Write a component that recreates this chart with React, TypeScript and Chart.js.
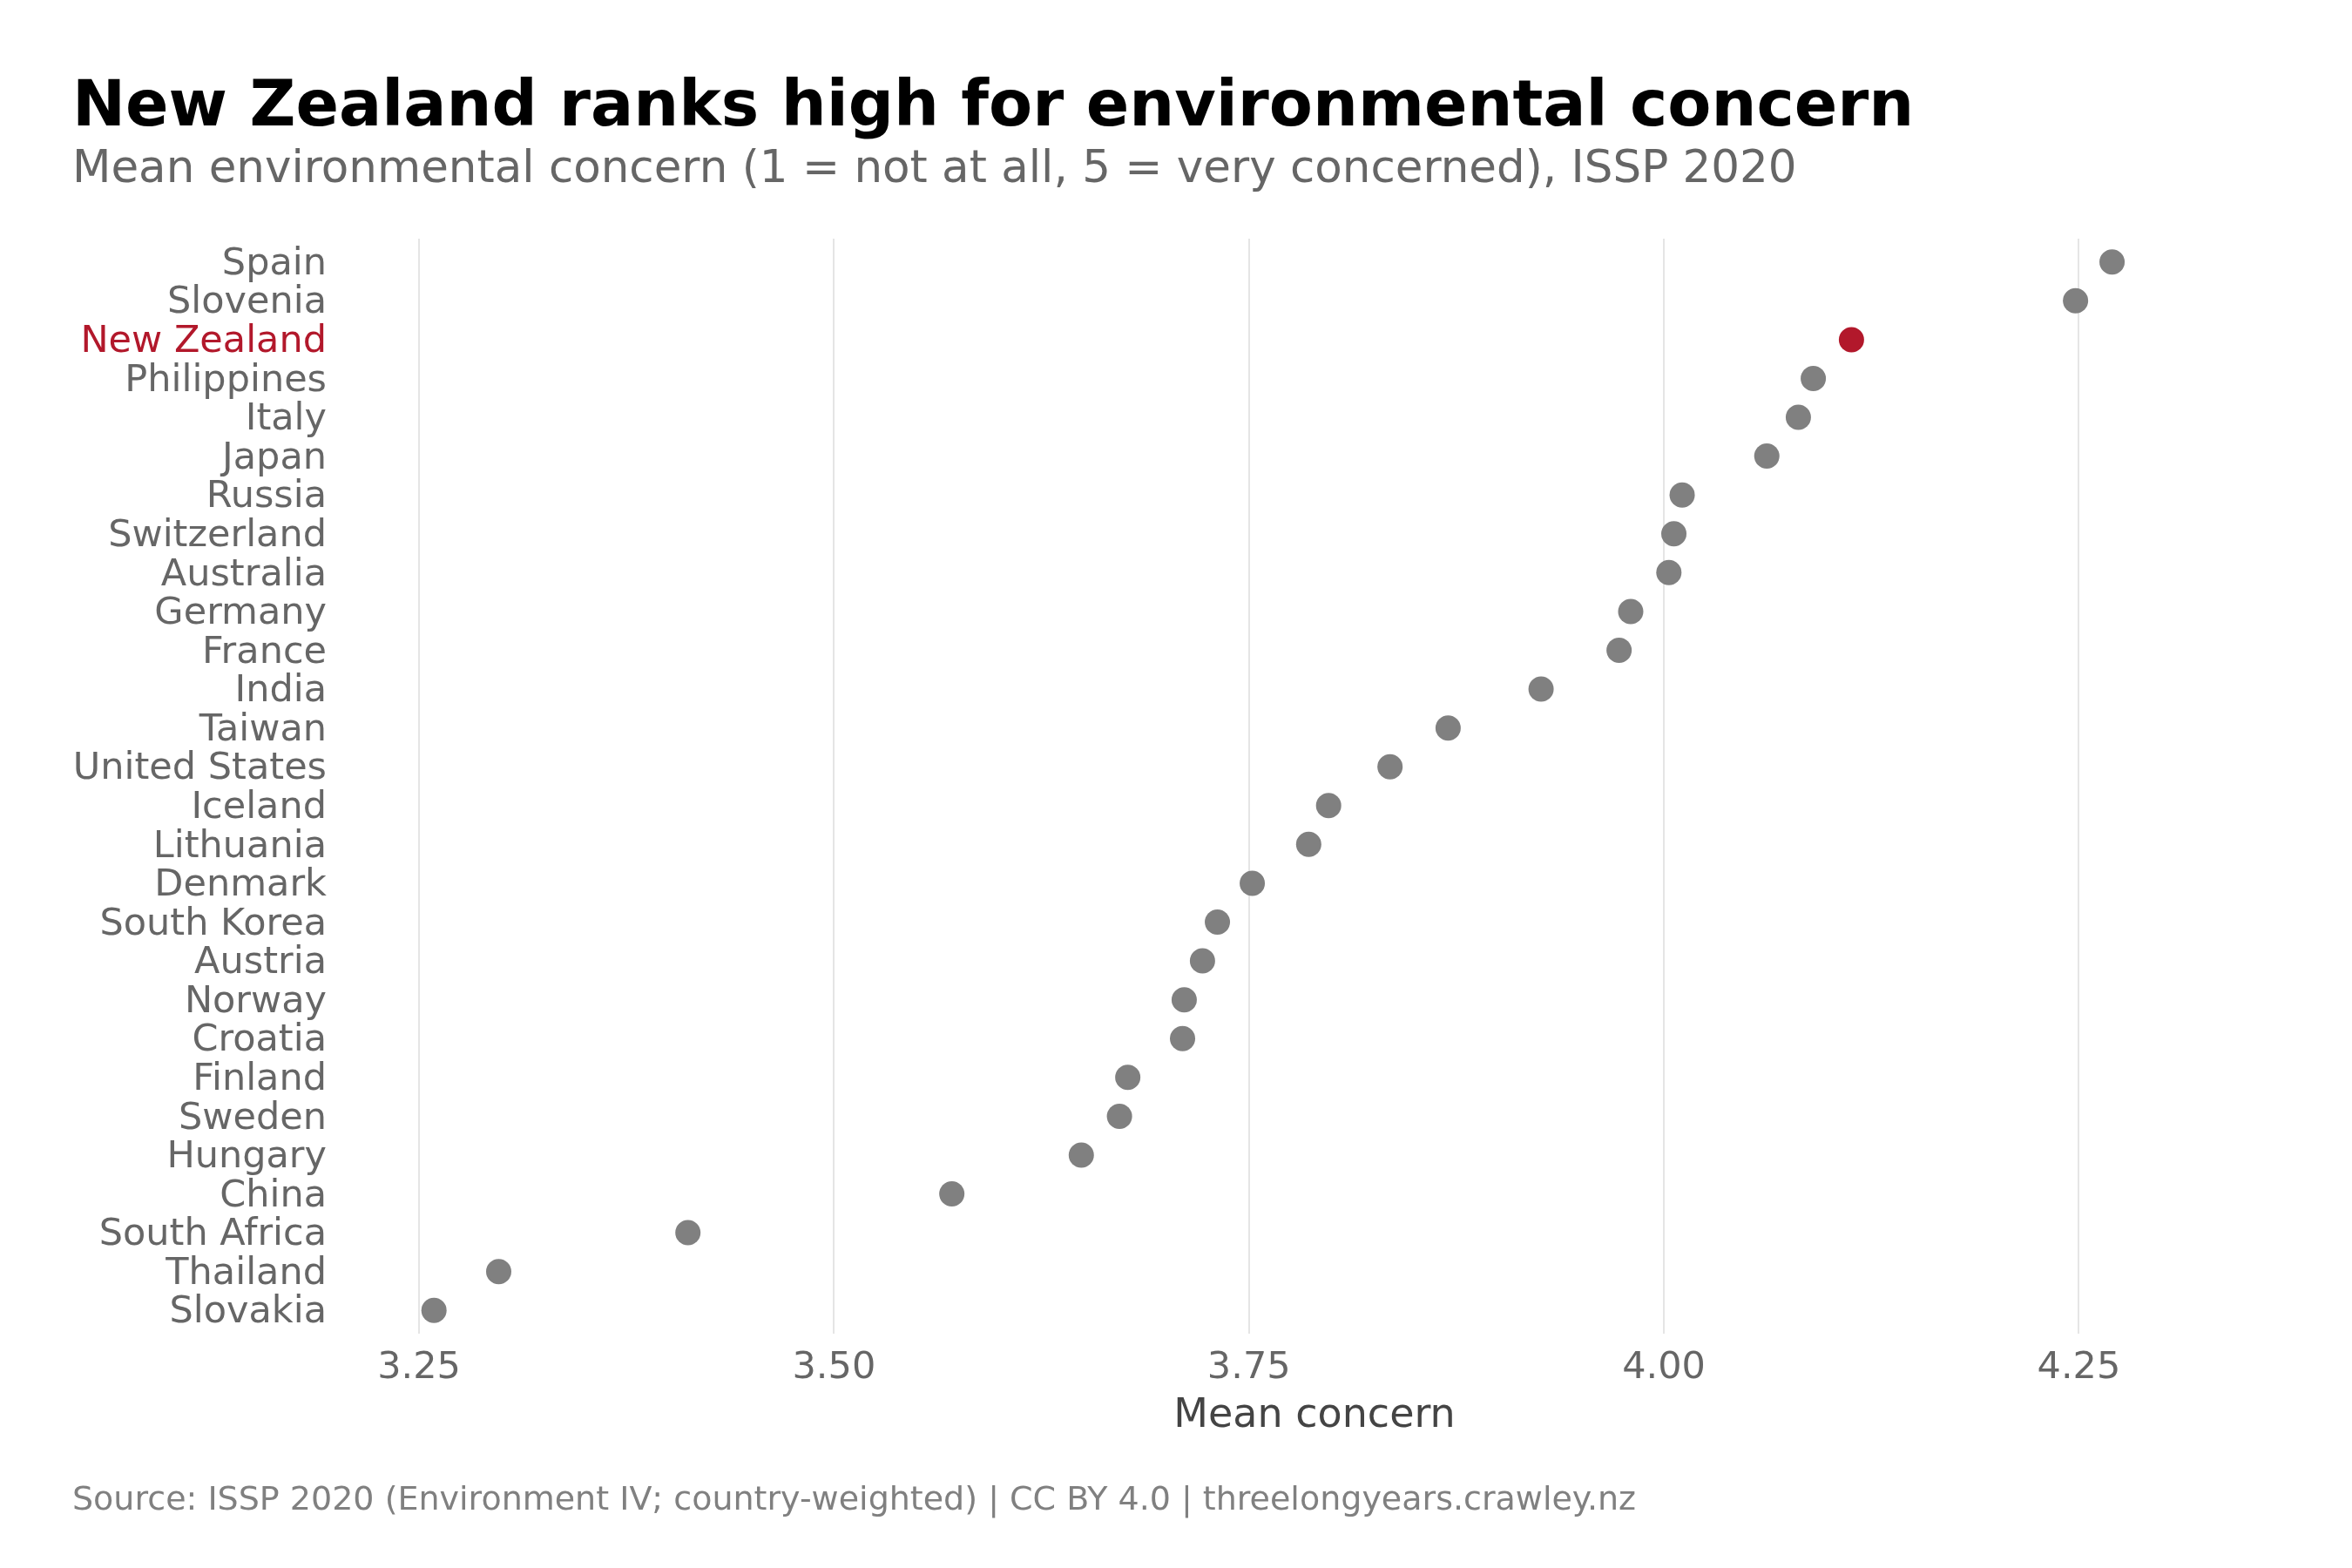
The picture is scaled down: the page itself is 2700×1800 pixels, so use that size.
import React, { useEffect, useRef } from "react";
import { Chart, registerables } from "chart.js";

Chart.register(...registerables);

const countries = [
  "Spain", "Slovenia", "New Zealand", "Philippines", "Italy", "Japan", "Russia",
  "Switzerland", "Australia", "Germany", "France", "India", "Taiwan", "United States",
  "Iceland", "Lithuania", "Denmark", "South Korea", "Austria", "Norway", "Croatia",
  "Finland", "Sweden", "Hungary", "China", "South Africa", "Thailand", "Slovakia",
];

const meanConcern = [
  4.270, 4.248, 4.113, 4.090, 4.081, 4.062, 4.011,
  4.006, 4.003, 3.980, 3.973, 3.926, 3.870, 3.835,
  3.798, 3.786, 3.752, 3.731, 3.722, 3.711, 3.710,
  3.677, 3.672, 3.649, 3.571, 3.412, 3.298, 3.259,
];

const xTicks = [3.25, 3.5, 3.75, 4.0, 4.25];
const highlight = "New Zealand";

const TITLE = "New Zealand ranks high for environmental concern";
const SUBTITLE = "Mean environmental concern (1 = not at all, 5 = very concerned), ISSP 2020";
const CAPTION = "Source: ISSP 2020 (Environment IV; country-weighted) | CC BY 4.0 | threelongyears.crawley.nz";
const X_TITLE = "Mean concern";

const RED = "#B2182B";
const GREY = "#808080";
const FONT = "'DejaVu Sans', sans-serif";

export default function App() {
  const ref = useRef<HTMLCanvasElement | null>(null);

  useEffect(() => {
    document.body.style.margin = "0";
    const canvas = ref.current;
    if (!canvas) return;

    const textPlugin = {
      id: "texts",
      afterDraw(chart: any) {
        const ctx = chart.ctx;
        ctx.save();
        ctx.textAlign = "left";
        ctx.textBaseline = "alphabetic";
        ctx.fillStyle = "#000000";
        ctx.font = `bold 73px ${FONT}`;
        ctx.fillText(TITLE, 83, 144);
        ctx.fillStyle = "#666666";
        ctx.font = `51.5px ${FONT}`;
        ctx.fillText(SUBTITLE, 83, 209);
        ctx.fillStyle = "#808080";
        ctx.font = `38px ${FONT}`;
        ctx.fillText(CAPTION, 83, 1733);
        ctx.restore();
      },
    };

    const chart = new Chart(canvas, {
      type: "scatter",
      data: {
        datasets: [
          {
            data: countries.map((c, i) => ({ x: meanConcern[i], y: i })),
            pointRadius: 14.5,
            pointHoverRadius: 14.5,
            pointBorderWidth: 0,
            pointBackgroundColor: countries.map((c) => (c === highlight ? RED : GREY)),
            pointBorderColor: countries.map((c) => (c === highlight ? RED : GREY)),
          },
        ],
      },
      options: {
        animation: false,
        responsive: false,
        maintainAspectRatio: false,
        layout: { padding: { left: 83, right: 83, top: 274, bottom: 0 } },
        plugins: {
          legend: { display: false },
          tooltip: { enabled: false },
          title: { display: false },
        },
        scales: {
          x: {
            type: "linear",
            min: 3.208,
            max: 4.371,
            afterBuildTicks: (scale: any) => {
              scale.ticks = xTicks.map((v) => ({ value: v }));
            },
            afterFit: (scale: any) => {
              scale.height = 269;
            },
            border: { display: false },
            grid: { color: "#e5e5e5", lineWidth: 2, drawTicks: false },
            ticks: {
              padding: 14,
              color: "#666666",
              font: { family: FONT, size: 43 },
              callback: (v: any) => Number(v).toFixed(2),
            },
            title: {
              display: true,
              text: X_TITLE,
              color: "#444444",
              font: { family: FONT, size: 46 },
              padding: { top: 0, bottom: 146 },
            },
          },
          y: {
            type: "linear",
            reverse: true,
            min: -0.6,
            max: countries.length - 1 + 0.6,
            afterBuildTicks: (scale: any) => {
              scale.ticks = countries.map((_, i) => ({ value: i }));
            },
            afterFit: (scale: any) => {
              scale.width = 318;
            },
            border: { display: false },
            grid: { display: false, drawTicks: false },
            ticks: {
              padding: 26,
              autoSkip: false,
              labelOffset: 3,
              font: { family: FONT, size: 43 },
              color: (ctx: any) =>
                countries[ctx.tick?.value] === highlight ? RED : "#666666",
              callback: (v: any) => countries[v] ?? "",
            },
          },
        },
      },
      plugins: [textPlugin],
    });

    return () => chart.destroy();
  }, []);

  return (
    <div style={{ width: 2700, height: 1800, background: "#ffffff" }}>
      <canvas ref={ref} width={2700} height={1800} style={{ display: "block", width: 2700, height: 1800 }} />
    </div>
  );
}
